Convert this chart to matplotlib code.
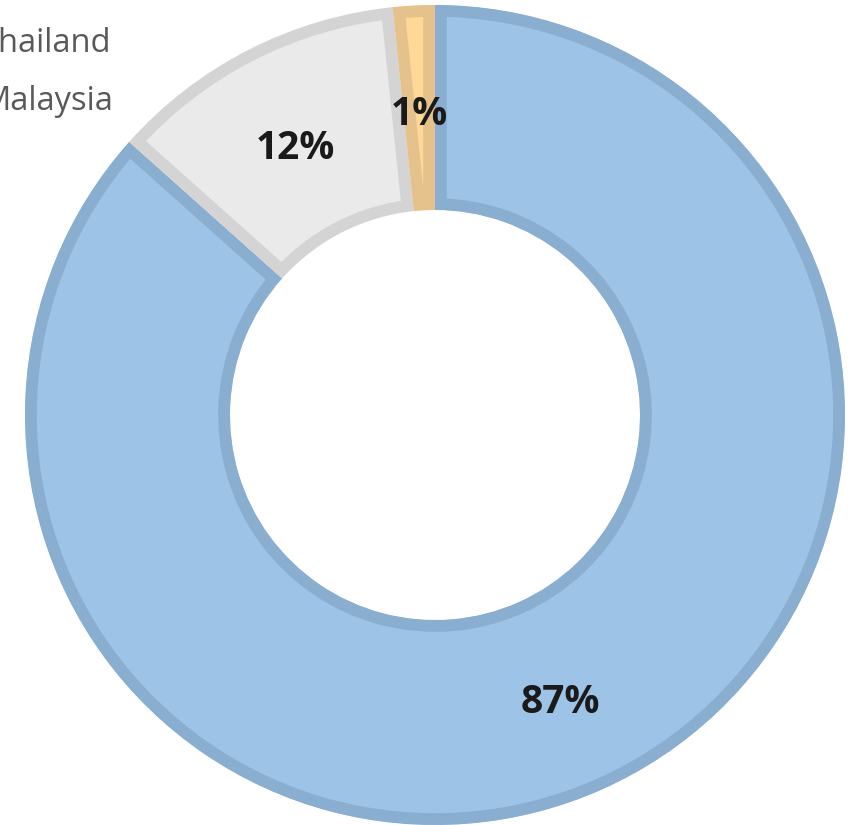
import matplotlib
matplotlib.use("Agg")
import matplotlib.pyplot as plt

# Data (clockwise from 12 o'clock)
values = [86.6, 11.75, 1.65]
pct_labels = ["87%", "12%", "1%"]
fills = ["#9DC3E6", "#EAEAEA", "#FFD898"]
edges = ["#8AAECF", "#D4D4D4", "#E5C28C"]
legend_labels = ["Thailand", "Malaysia"]

W, H = 854, 825
fig = plt.figure(figsize=(W / 100, H / 100), dpi=100)
ax = fig.add_axes([0, 0, 1, 1])

cx, cy, R = 435, H - 415, 410
wedges, texts, autotexts = ax.pie(
    values, colors=fills, startangle=90, counterclock=False,
    center=(cx, cy), radius=R, autopct="%.0f%%", pctdistance=0.75,
    wedgeprops=dict(width=R * 0.5, linewidth=17, edgecolor="none"),
    textprops=dict(fontsize=28, fontweight="bold", color="#1A1A1A",
                   family=["Open Sans", "DejaVu Sans"]),
    frame=True,
)
ax.set_xlim(0, W)
ax.set_ylim(0, H)
ax.set_aspect("equal")
ax.axis("off")
for w, ec in zip(wedges, edges):
    w.set_edgecolor(ec)
    w.set_clip_on(True)
    w.set_clip_path(w)
for t, lab in zip(autotexts, pct_labels):
    t.set_text(lab)
    x, y = t.get_position()
    t.set_position((x, y - 7))

# Legend text (partially outside the canvas on the left, as in the reference)
for lab, yb, xr in zip(legend_labels, [52, 110], [111, 114]):
    ax.text(xr, H - yb, lab, ha="right", va="baseline",
            fontsize=23.5, color="#595959", family=["Open Sans", "DejaVu Sans"])

fig.savefig("out.png", dpi=100)
